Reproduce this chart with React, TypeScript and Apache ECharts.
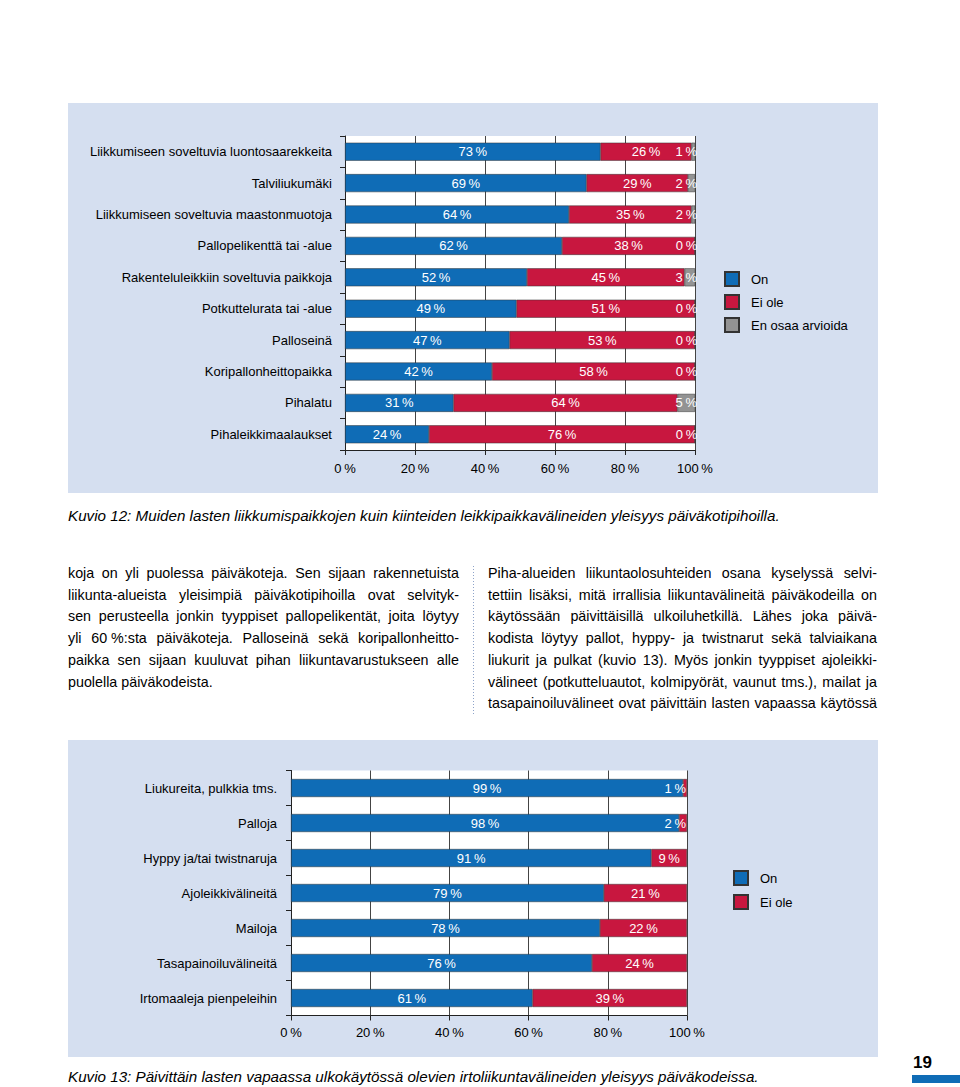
import React, { useEffect, useRef } from "react";
import * as echarts from "echarts";

// ---------- data ----------
const cats1 = [
  "Liikkumiseen soveltuvia luontosaarekkeita",
  "Talviliukumäki",
  "Liikkumiseen soveltuvia maastonmuotoja",
  "Pallopelikenttä tai -alue",
  "Rakenteluleikkiin soveltuvia paikkoja",
  "Potkuttelurata tai -alue",
  "Palloseinä",
  "Koripallonheittopaikka",
  "Pihalatu",
  "Pihaleikkimaalaukset",
];
const on1 = [73, 69, 64, 62, 52, 49, 47, 42, 31, 24];
const eiOle1 = [26, 29, 35, 38, 45, 51, 53, 58, 64, 76];
const enOsaa1 = [1, 2, 2, 0, 3, 0, 0, 0, 5, 0];

const cats2 = [
  "Liukureita, pulkkia tms.",
  "Palloja",
  "Hyppy ja/tai twistnaruja",
  "Ajoleikkivälineitä",
  "Mailoja",
  "Tasapainoiluvälineitä",
  "Irtomaaleja pienpeleihin",
];
const on2 = [99, 98, 91, 79, 78, 76, 61];
const eiOle2 = [1, 2, 9, 21, 22, 24, 39];

const seriesNames = ["On", "Ei ole", "En osaa arvioida"];

const caption1 =
  "Kuvio 12: Muiden lasten liikkumispaikkojen kuin kiinteiden leikkipaikkavälineiden yleisyys päiväkotipihoilla.";
const caption2 =
  "Kuvio 13: Päivittäin lasten vapaassa ulkokäytössä olevien irtoliikuntavälineiden yleisyys päiväkodeissa.";

const leftLines = [
  "koja on yli puolessa päiväkoteja. Sen sijaan rakennetuista",
  "liikunta-alueista yleisimpiä päiväkotipihoilla ovat selvityk-",
  "sen perusteella jonkin tyyppiset pallopelikentät, joita löytyy",
  "yli 60\u00a0%:sta päiväkoteja. Palloseinä sekä koripallonheitto-",
  "paikka sen sijaan kuuluvat pihan liikuntavarustukseen alle",
  "puolella päiväkodeista.",
];
const rightLines = [
  "Piha-alueiden liikuntaolosuhteiden osana kyselyssä selvi-",
  "tettiin lisäksi, mitä irrallisia liikuntavälineitä päiväkodeilla on",
  "käytössään päivittäisillä ulkoiluhetkillä. Lähes joka päivä-",
  "kodista löytyy pallot, hyppy- ja twistnarut sekä talviaikana",
  "liukurit ja pulkat (kuvio 13). Myös jonkin tyyppiset ajoleikki-",
  "välineet (potkutteluautot, kolmipyörät, vaunut tms.), mailat ja",
  "tasapainoiluvälineet ovat päivittäin lasten vapaassa käytössä",
];
const pageNumber = "19";

// ---------- style ----------
const FONT = '"Liberation Sans", Arial, Helvetica, sans-serif';
const BLUE = "#0f6cb6";
const RED = "#c8173f";
const GRAY = "#939393";
const PANEL = "#d5dff0";
const BORDER = "#333";
const pct = (v: number) => `${v}\u2009%`;

let measureCtx: CanvasRenderingContext2D | null = null;
function measure(text: string, size: number, style = "normal", weight = "normal") {
  if (!measureCtx) measureCtx = document.createElement("canvas").getContext("2d");
  measureCtx!.font = `${style} ${weight} ${size}px ${FONT}`;
  return measureCtx!.measureText(text).width;
}

function textEl(text: string, x: number, y: number, size: number, extra: any = {}) {
  return {
    type: "text",
    x,
    y,
    silent: true,
    style: {
      text,
      fill: "#000",
      fontSize: size,
      fontFamily: FONT,
      align: "left",
      textAlign: "left",
      verticalAlign: "middle",
      textVerticalAlign: "middle",
      ...extra,
    },
  };
}

function justified(lines: string[], x0: number, y0: number, width: number, lineH: number, size: number, lastJustified: boolean) {
  const els: any[] = [];
  lines.forEach((line, i) => {
    const y = y0 + i * lineH;
    const words = line.split(" ");
    const isLast = i === lines.length - 1;
    if ((isLast && !lastJustified) || words.length < 2) {
      els.push(textEl(line, x0, y, size));
      return;
    }
    const widths = words.map((w) => measure(w, size));
    const total = widths.reduce((a, b) => a + b, 0);
    const gap = (width - total) / (words.length - 1);
    let x = x0;
    words.forEach((w, j) => {
      els.push(textEl(w, x, y, size));
      x += widths[j] + gap;
    });
  });
  return els;
}

function valueAxis(gridIndex: number, margin: number) {
  return {
    type: "value",
    gridIndex,
    min: 0,
    max: 100,
    interval: 20,
    axisLine: { show: true, lineStyle: { color: "#222", width: 1 } },
    axisTick: { show: true, length: 5, lineStyle: { color: "#222" } },
    axisLabel: { formatter: (v: number) => pct(v), fontSize: 13, color: "#000", fontFamily: FONT, margin },
    splitLine: { show: true, lineStyle: { color: "#444", width: 1 } },
  };
}

function catAxis(gridIndex: number, data: string[], margin: number) {
  return {
    type: "category",
    gridIndex,
    data,
    inverse: true,
    axisLine: { show: true, lineStyle: { color: "#222", width: 1 } },
    axisTick: { show: true, length: 5, lineStyle: { color: "#222" } },
    axisLabel: { fontSize: 13, color: "#000", fontFamily: FONT, margin },
    splitLine: { show: false },
  };
}

const barLabel = {
  show: true,
  color: "#fff",
  fontSize: 13,
  fontFamily: FONT,
  position: "inside",
  formatter: (p: any) => pct(p.value),
};

function barSeries(name: string, idx: number, data: any[], color: string, stack: string, labelExtra: any = {}) {
  return {
    name,
    type: "bar",
    stack,
    xAxisIndex: idx,
    yAxisIndex: idx,
    data,
    barWidth: 18,
    itemStyle: { color, borderColor: BORDER, borderWidth: 0.5 },
    label: { ...barLabel, ...labelExtra },
    emphasis: { disabled: true },
  };
}

export default function App() {
  const ref = useRef<HTMLDivElement>(null);

  useEffect(() => {
    if (!ref.current) return;
    const chart = echarts.init(ref.current, undefined, { renderer: "svg" });

    const graphics: any[] = [
      { type: "rect", z: -10, silent: true, shape: { x: 68, y: 103, width: 810, height: 390 }, style: { fill: PANEL } },
      { type: "rect", z: -10, silent: true, shape: { x: 68, y: 740, width: 810, height: 317 }, style: { fill: PANEL } },
      textEl(caption1, 68, 515, 15.2, { fontStyle: "italic" }),
      textEl(caption2, 68, 1076, 15.2, { fontStyle: "italic" }),
      ...justified(leftLines, 68, 573, 391, 21.7, 14.3, false),
      ...justified(rightLines, 488, 573, 389, 21.7, 14.3, true),
      {
        type: "line",
        silent: true,
        shape: { x1: 473.5, y1: 566, x2: 473.5, y2: 716 },
        style: { stroke: "#8ea3c9", lineWidth: 1, lineDash: [1, 2] },
      },
      textEl(pageNumber, 913, 1062, 17, { fontWeight: "bold" }),
      { type: "rect", silent: true, shape: { x: 912, y: 1075, width: 48, height: 8 }, style: { fill: BLUE } },
    ];

    const legendCommon = {
      orient: "vertical",
      itemWidth: 14,
      itemHeight: 14,
      icon: "rect",
      padding: 0,
      selectedMode: false,
      textStyle: { fontSize: 13, color: "#000", fontFamily: FONT, padding: [0, 0, 0, 7] },
    };

    const option: any = {
      animation: false,
      backgroundColor: "#fff",
      grid: [
        { left: 345, top: 136, width: 350, height: 314, show: true, backgroundColor: "#fff", borderWidth: 0 },
        { left: 291, top: 770.5, width: 396, height: 245, show: true, backgroundColor: "#fff", borderWidth: 0 },
      ],
      xAxis: [valueAxis(0, 12), valueAxis(1, 10)],
      yAxis: [catAxis(0, cats1, 13), catAxis(1, cats2, 14)],
      legend: [
        { ...legendCommon, data: seriesNames, left: 724, top: 271, itemGap: 7 },
        { ...legendCommon, data: seriesNames.slice(0, 2), left: 733, top: 870, itemGap: 8 },
      ],
      series: [
        barSeries(seriesNames[0], 0, on1, BLUE, "s1"),
        barSeries(seriesNames[1], 0, eiOle1, RED, "s1"),
        barSeries(seriesNames[2], 0, enOsaa1, GRAY, "s1", { position: "insideRight", distance: -2 }),
        barSeries(seriesNames[0], 1, on2, BLUE, "s2"),
        barSeries(
          seriesNames[1],
          1,
          eiOle2.map((v) => (v < 5 ? { value: v, label: { position: "insideRight", distance: 1 } } : v)),
          RED,
          "s2"
        ),
      ],
      graphic: { elements: graphics },
    };

    chart.setOption(option);
    return () => chart.dispose();
  }, []);

  return (
    <div
      ref={ref}
      style={{ position: "absolute", left: 0, top: 0, width: 960, height: 1087, background: "#fff" }}
    />
  );
}
